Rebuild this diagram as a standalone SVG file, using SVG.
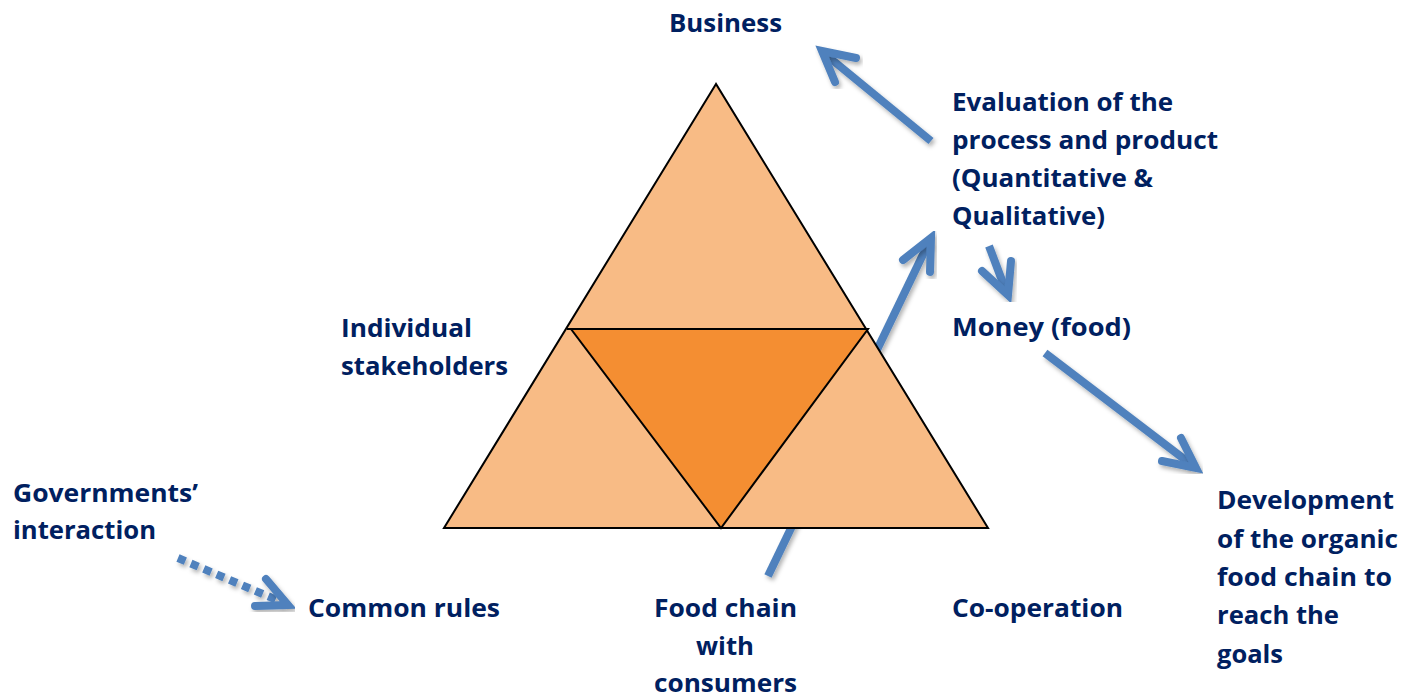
<svg xmlns="http://www.w3.org/2000/svg" width="1412" height="697" viewBox="0 0 1412 697">
<style>
.lbl{font-family:"Open Sans","Noto Sans","Liberation Sans",sans-serif;font-weight:700;font-size:25px;fill:#002060}
.tri{fill:#F8BB85;stroke:#000;stroke-width:2;stroke-linejoin:miter}
.tri-c{fill:#F48E32;stroke:#000;stroke-width:2;stroke-linejoin:miter}
.edge{fill:none;stroke:#000;stroke-width:2}
.arr{fill:none;stroke:#4F81BD;stroke-width:8;stroke-linejoin:miter;stroke-linecap:butt;filter:url(#sh)}
.head{fill:none;stroke:#4F81BD;stroke-width:8;stroke-linejoin:miter;stroke-linecap:round;filter:url(#sh)}
.dot{fill:none;stroke:#4F81BD;stroke-width:8;stroke-dasharray:8 6;filter:url(#sh)}
</style>
<defs>
<filter id="sh" x="-20%" y="-20%" width="140%" height="140%">
<feDropShadow dx="2" dy="3" stdDeviation="2" flood-color="#000" flood-opacity="0.3"/>
</filter>
</defs>
<rect width="1412" height="697" fill="#fff"/>
<g id="connectors">
<g id="c-eval-business"><path class="arr" d="M931,141 L825,54"/><path class="head" d="M856,58 L822,51 L835,82"/></g>
<g id="c-food-eval"><path class="arr" d="M768,576 L929,242"/><path class="head" d="M903,260 L931,238 L930,272"/></g>
<g id="c-eval-money"><path class="arr" d="M989,246 L1006,291"/><path class="head" d="M982,271 L1008,295 L1011,261"/></g>
<g id="c-money-dev"><path class="arr" d="M1045,353 L1192,465"/><path class="head" d="M1162,461 L1196,468 L1181,438"/></g>
<g id="c-gov-rules"><path class="dot" d="M178,558 L284,603"/><path class="head" d="M255,606 L288,605 L266,579"/></g>
</g>
<g id="pyramid">
<polygon id="tri-outer" class="tri" points="716,84 444,528 988,528"/>
<line class="edge" x1="567" y1="329" x2="866" y2="329"/>
<polygon id="tri-center" class="tri-c" points="571,329 868,329 721,528"/>
</g>
<g id="n-business"><text class="lbl" x="669" y="31.5" textLength="113" lengthAdjust="spacingAndGlyphs">Business</text></g>
<g id="n-evaluation">
<text class="lbl" x="952" y="110.5" textLength="221" lengthAdjust="spacingAndGlyphs">Evaluation of the</text>
<text class="lbl" x="952" y="148.5" textLength="266" lengthAdjust="spacingAndGlyphs">process and product</text>
<text class="lbl" x="952" y="187" textLength="201" lengthAdjust="spacingAndGlyphs">(Quantitative &amp;</text>
<text class="lbl" x="952" y="225" textLength="153" lengthAdjust="spacingAndGlyphs">Qualitative)</text>
</g>
<g id="n-money"><text class="lbl" x="952" y="335.5" textLength="179" lengthAdjust="spacingAndGlyphs">Money (food)</text></g>
<g id="n-individual">
<text class="lbl" x="341" y="336.5" textLength="131" lengthAdjust="spacingAndGlyphs">Individual</text>
<text class="lbl" x="341" y="375" textLength="167" lengthAdjust="spacingAndGlyphs">stakeholders</text>
</g>
<g id="n-governments">
<text class="lbl" x="13" y="501.5" textLength="185" lengthAdjust="spacingAndGlyphs">Governments’</text>
<text class="lbl" x="13" y="538.5" textLength="143" lengthAdjust="spacingAndGlyphs">interaction</text>
</g>
<g id="n-common"><text class="lbl" x="308" y="616.5" textLength="192" lengthAdjust="spacingAndGlyphs">Common rules</text></g>
<g id="n-foodchain">
<text class="lbl" x="654" y="616.7" textLength="143" lengthAdjust="spacingAndGlyphs">Food chain</text>
<text class="lbl" x="696" y="655" textLength="58" lengthAdjust="spacingAndGlyphs">with</text>
<text class="lbl" x="654" y="692" textLength="143" lengthAdjust="spacingAndGlyphs">consumers</text>
</g>
<g id="n-cooperation"><text class="lbl" x="952" y="616.7" textLength="171" lengthAdjust="spacingAndGlyphs">Co-operation</text></g>
<g id="n-development">
<text class="lbl" x="1217" y="509.3" textLength="177" lengthAdjust="spacingAndGlyphs">Development</text>
<text class="lbl" x="1217" y="547.5" textLength="181" lengthAdjust="spacingAndGlyphs">of the organic</text>
<text class="lbl" x="1217" y="586" textLength="175" lengthAdjust="spacingAndGlyphs">food chain to</text>
<text class="lbl" x="1217" y="624" textLength="122" lengthAdjust="spacingAndGlyphs">reach the</text>
<text class="lbl" x="1217" y="662.5" textLength="66" lengthAdjust="spacingAndGlyphs">goals</text>
</g>
</svg>
